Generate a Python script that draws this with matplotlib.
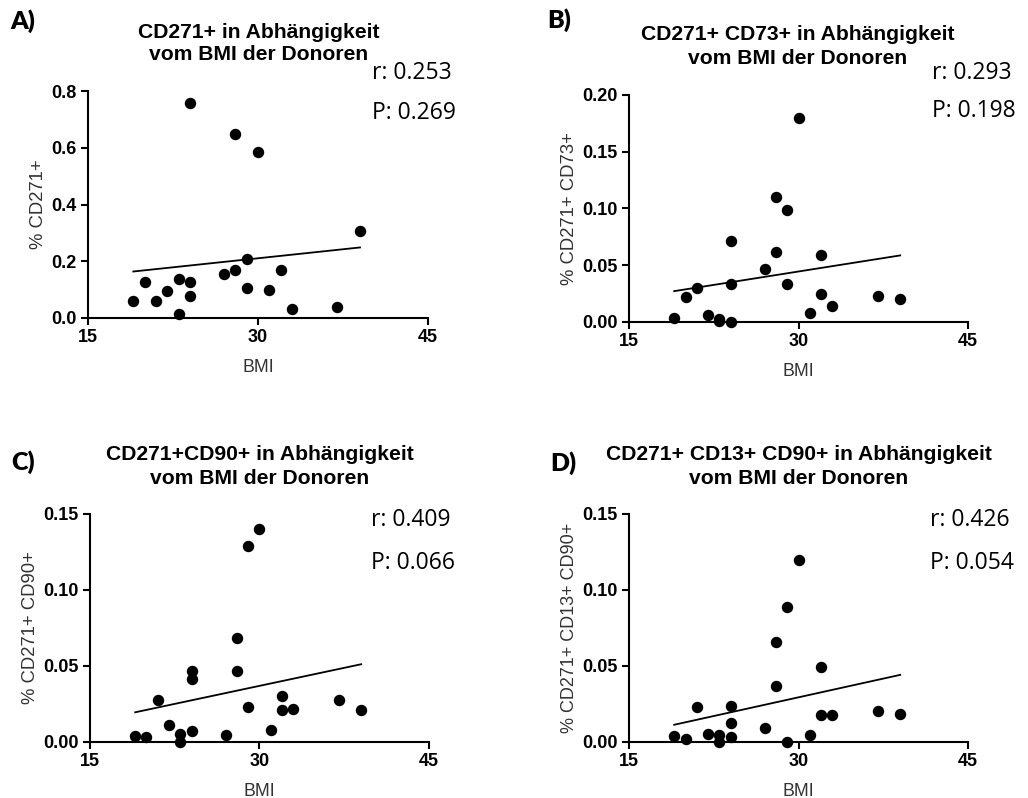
import numpy as np
import matplotlib
matplotlib.use('Agg')
import matplotlib.pyplot as plt

# BMI values of the donors (shared by all panels)
bmi_a = [19, 20, 21, 22, 23, 23, 24, 24, 24, 27, 28, 28, 29, 29, 30, 31, 32, 33, 37, 39]
cd271 = [0.06, 0.127, 0.06, 0.094, 0.139, 0.013, 0.756, 0.127, 0.076, 0.156,
         0.647, 0.168, 0.207, 0.107, 0.586, 0.098, 0.168, 0.033, 0.039, 0.307]

bmi = [19, 20, 21, 22, 23, 23, 24, 24, 24, 27, 28, 28, 29, 29, 30, 31, 32, 32, 33, 37, 39]
cd271_cd73 = [0.0035, 0.0217, 0.0296, 0.0062, 0.0029, 0.0006, 0.0716, 0.0337, 0.0,
              0.0466, 0.1097, 0.0616, 0.0988, 0.0337, 0.1795, 0.0079, 0.0587, 0.0246,
              0.0138, 0.0226, 0.0205]
cd271_cd90 = [0.0037, 0.0033, 0.0279, 0.011, 0.0055, 0.0, 0.0468, 0.0417, 0.007,
              0.0048, 0.0687, 0.0468, 0.129, 0.023, 0.14, 0.0081, 0.030, 0.0209,
              0.0217, 0.0279, 0.0209]
cd271_cd13_cd90 = [0.004, 0.0018, 0.023, 0.0055, 0.0048, 0.0, 0.024, 0.0127, 0.0033,
                   0.0092, 0.0657, 0.0367, 0.0885, 0.0, 0.1195, 0.0044, 0.0494, 0.0176,
                   0.0176, 0.0206, 0.0187]
bmi_c = [19, 20, 21, 22, 23, 23, 24, 24, 24, 27, 28, 28, 29, 29, 30, 31, 32, 32, 33, 37, 39]

letters = ['A)', 'B)', 'C)', 'D)']
titles1 = ['CD271+ in Abhängigkeit', 'CD271+ CD73+ in Abhängigkeit',
           'CD271+CD90+ in Abhängigkeit', 'CD271+ CD13+ CD90+ in Abhängigkeit']
title2 = 'vom BMI der Donoren'
ylabels = ['% CD271+', '% CD271+ CD73+', '% CD271+ CD90+', '% CD271+ CD13+ CD90+']
r_vals = ['r: 0.253', 'r: 0.293', 'r: 0.409', 'r: 0.426']
p_vals = ['P: 0.269', 'P: 0.198', 'P: 0.066', 'P: 0.054']
yticks = [[0.0, 0.2, 0.4, 0.6, 0.8],
          [0.00, 0.05, 0.10, 0.15, 0.20],
          [0.00, 0.05, 0.10, 0.15],
          [0.00, 0.05, 0.10, 0.15]]
yfmt = ['%.1f', '%.2f', '%.2f', '%.2f']
xs = [bmi_a, bmi, bmi_c, bmi_c]
ys = [cd271, cd271_cd73, cd271_cd90, cd271_cd13_cd90]

W, H = 1028, 798
fig = plt.figure(figsize=(W / 100, H / 100), dpi=100)

# axes boxes in pixels: left, top, right, bottom
boxes = [(88, 91, 428, 318), (629, 95, 968, 322), (90, 514, 429, 742), (629, 514, 968, 742)]
title_pos = [(259, 32, 55), (798, 35, 59), (260, 454, 478), (799, 454, 478)]
letter_pos = [(10, 21), (547, 20), (11, 462), (550, 463)]
rp_pos = [(372, 73, 113), (932, 73, 111), (371, 520, 563), (930, 520, 563)]
ylabel_size = [13.3, 13.3, 13.3, 13.0]

def fx(px):
    return px / W

def fy(py):
    return 1 - py / H

for i in range(4):
    l, t, r, b = boxes[i]
    ax = fig.add_axes([fx(l), fy(b), (r - l) / W, (b - t) / H])
    x = np.array(xs[i])
    y = np.array(ys[i])
    ax.scatter(x, y, s=52, color='black', zorder=3, clip_on=False)
    k, d = np.polyfit(x, y, 1)
    xl = np.array([x.min(), x.max()])
    ax.plot(xl, k * xl + d, color='black', lw=1.3)
    ax.set_xlim(15, 45)
    ax.set_ylim(yticks[i][0], yticks[i][-1])
    ax.set_xticks([15, 30, 45])
    ax.set_yticks(yticks[i])
    ax.set_yticklabels([yfmt[i] % v for v in yticks[i]])
    for s in ['top', 'right']:
        ax.spines[s].set_visible(False)
    for s in ['left', 'bottom']:
        ax.spines[s].set_linewidth(1.5)
    ax.tick_params(width=1.5, length=5, labelsize=13, direction='out', pad=3)
    for lab in ax.get_xticklabels() + ax.get_yticklabels():
        lab.set_fontweight('bold')
        lab.set_family('Liberation Sans')
    ax.set_xlabel('BMI', fontsize=12.8, color='#333333', family='Liberation Sans', labelpad=9)
    ax.set_ylabel(ylabels[i], fontsize=ylabel_size[i], color='#333333',
                  family='Liberation Sans', labelpad=3)
    tx, ty1, ty2 = title_pos[i]
    fig.text(fx(tx), fy(ty1), titles1[i], ha='center', va='center',
             fontsize=15.2, fontweight='bold', family='Liberation Sans')
    fig.text(fx(tx), fy(ty2), title2, ha='center', va='center',
             fontsize=15.2, fontweight='bold', family='Liberation Sans')
    fig.text(fx(letter_pos[i][0]), fy(letter_pos[i][1]), letters[i], ha='left', va='center',
             fontsize=18, fontweight='heavy', family='Lato')
    fig.text(fx(rp_pos[i][0]), fy(rp_pos[i][1]), r_vals[i], ha='left', va='center',
             fontsize=16.5, family='Open Sans')
    fig.text(fx(rp_pos[i][0]), fy(rp_pos[i][2]), p_vals[i], ha='left', va='center',
             fontsize=16.5, family='Open Sans')

fig.savefig('out.png', dpi=100, facecolor='white')
